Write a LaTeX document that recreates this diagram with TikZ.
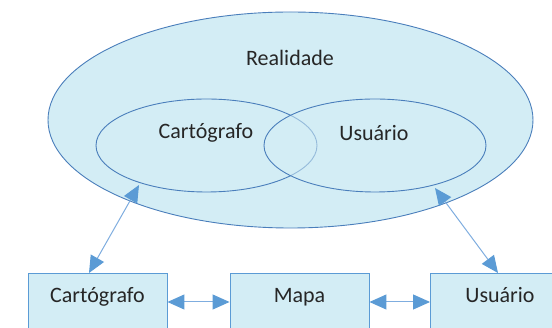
\documentclass[tikz,border=0pt]{standalone}
\usepackage{fontspec}
\setmainfont{Carlito}
\usetikzlibrary{shapes.geometric,arrows.meta}
\definecolor{fillblue}{HTML}{D3EDF5}
\definecolor{edgeblue}{HTML}{4A7EBB}
\definecolor{arrowblue}{HTML}{5B9BD5}
\definecolor{shaftblue}{HTML}{7FADDF}
\definecolor{txt}{HTML}{262626}
\tikzset{
  oval/.style={ellipse, draw=edgeblue, line width=0.9pt, inner sep=0pt},
  boxnode/.style={rectangle, draw=arrowblue, line width=0.9pt, fill=fillblue, anchor=north,
    minimum width=139pt, inner xsep=0pt, inner ysep=0pt, text height=29pt, text depth=60pt},
  lbl/.style={font=\fontsize{22}{26}\selectfont, text=txt},
  conn/.style={draw=shaftblue, line width=1pt,
    {Triangle[length=17pt,width=15pt,color=arrowblue]}-{Triangle[length=17pt,width=15pt,color=arrowblue]}}
}
\begin{document}
\begin{tikzpicture}[x=1pt,y=-1pt]
\useasboundingbox (0,0) rectangle (552,328);
\clip (0,0) rectangle (552,328);
\node[oval, fill=fillblue, minimum width=485pt, minimum height=216pt] (real) at (290.5,120) {};
\node[lbl] (treal) at (290,58) {Realidade};
\node[oval, minimum width=221pt, minimum height=93pt] (cart) at (206.5,145.5) {};
\node[oval, fill=fillblue, fill opacity=0.55, minimum width=222pt, minimum height=93pt] (usu) at (375,145.5) {};
\node[lbl] (tcart) at (206,133) {Cartógrafo};
\node[lbl] (tusu) at (374,133) {Usuário};
\node[boxnode, lbl] (bcart) at (97.5,273) {Cartógrafo};
\node[boxnode, lbl] (bmapa) at (299.5,273) {Mapa};
\node[boxnode, lbl] (busu) at (500,273) {Usuário};
\coordinate (c1) at (139,185);
\coordinate (c2) at (435,188);
\coordinate (b1) at (89,273);
\coordinate (b2) at (498,273);
\path[conn] (b1) -- (c1);
\path[conn] (b2) -- (c2);
\path[conn] (bcart.east |- 0,302) -- (bmapa.west |- 0,302);
\path[conn] (bmapa.east |- 0,302) -- (busu.west |- 0,302);
\end{tikzpicture}
\end{document}
